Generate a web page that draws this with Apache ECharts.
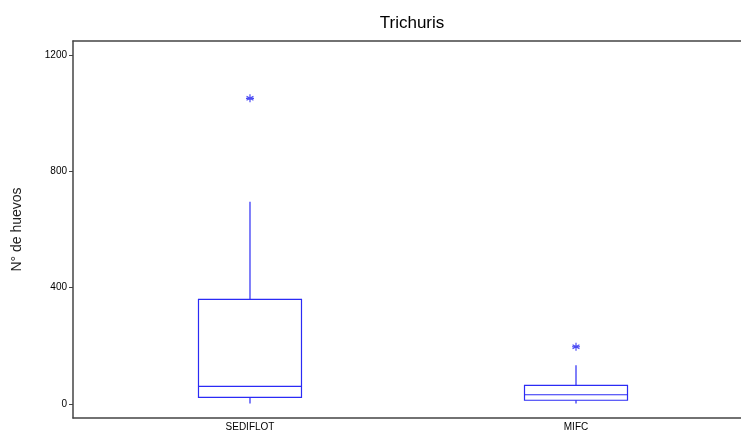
<!DOCTYPE html>
<html>
<head>
<meta charset="utf-8">
<script src="https://cdn.jsdelivr.net/npm/echarts@6/dist/echarts.min.js"></script>
<style>
html,body{margin:0;padding:0;background:#fff;}
#chart{width:741px;height:435px;}
</style>
</head>
<body>
<div id="chart"></div>
<script>
// Data
const categories = ['SEDIFLOT', 'MIFC'];
const categoryPositions = [1, 2];
// [min, Q1, median, Q3, max]
const boxValues = [
  [2, 23, 61, 360, 695],
  [2, 13, 32, 64, 133]
];
const outlierCategory = [1, 2];
const outlierValues = [1051, 197];
const yTicks = [0, 400, 800, 1200];

const boxData = boxValues.map((b, i) => [categoryPositions[i]].concat(b));
const outlierData = outlierValues.map((v, i) => [outlierCategory[i], v]);

const chart = echarts.init(document.getElementById('chart'));
const lineColor = '#2b2bf5';
const axisColor = '#444';
const font = '"Liberation Sans", Arial, sans-serif';
const BOX_HALF = 51.5;

function renderBox(params, api) {
  const x = api.value(0);
  const pMin = api.coord([x, api.value(1)]);
  const pQ1 = api.coord([x, api.value(2)]);
  const pMed = api.coord([x, api.value(3)]);
  const pQ3 = api.coord([x, api.value(4)]);
  const pMax = api.coord([x, api.value(5)]);
  const cx = pQ1[0];
  const style = {stroke: lineColor, lineWidth: 1.2, fill: null};
  return {
    type: 'group',
    children: [
      {type: 'rect', shape: {x: cx - BOX_HALF, y: pQ3[1], width: BOX_HALF * 2, height: pQ1[1] - pQ3[1]}, style: style},
      {type: 'line', shape: {x1: cx - BOX_HALF, y1: pMed[1], x2: cx + BOX_HALF, y2: pMed[1]}, style: style},
      {type: 'line', shape: {x1: cx, y1: pQ3[1], x2: cx, y2: pMax[1]}, style: style},
      {type: 'line', shape: {x1: cx, y1: pQ1[1], x2: cx, y2: pMin[1]}, style: style}
    ]
  };
}

const xMin = 0.4571, xMax = 2.5061;

chart.setOption({
  animation: false,
  backgroundColor: '#ffffff',
  title: {
    text: 'Trichuris',
    left: 407, top: 10, textAlign: 'center',
    textStyle: {fontFamily: font, fontSize: 17, fontWeight: 'normal', color: '#000'}
  },
  grid: {left: 73, right: 0, top: 41, bottom: 17},
  xAxis: [
    {
      type: 'value', position: 'bottom',
      min: xMin, max: xMax,
      splitLine: {show: false},
      axisLine: {show: true, onZero: false, lineStyle: {color: axisColor, width: 1.5}},
      axisTick: {show: false},
      axisLabel: {
        customValues: categoryPositions,
        formatter: v => categories[categoryPositions.indexOf(Math.round(v))] || '',
        margin: 4,
        fontFamily: font, fontSize: 10, color: '#000'
      }
    },
    {
      type: 'value', position: 'top',
      min: xMin, max: xMax,
      splitLine: {show: false},
      axisLine: {show: true, onZero: false, lineStyle: {color: axisColor, width: 1.5}},
      axisTick: {show: false},
      axisLabel: {show: false}
    }
  ],
  yAxis: {
    type: 'value',
    min: -48, max: 1248,
    name: 'N° de huevos',
    nameLocation: 'middle',
    nameGap: 49,
    nameTextStyle: {fontFamily: font, fontSize: 14, color: '#222'},
    splitLine: {show: false},
    axisLine: {show: true, onZero: false, lineStyle: {color: axisColor, width: 1.5}},
    axisTick: {show: true, customValues: yTicks, length: 4, lineStyle: {color: axisColor}},
    axisLabel: {customValues: yTicks, margin: 6, formatter: v => String(v), fontFamily: font, fontSize: 10, color: '#000'}
  },
  series: [
    {
      type: 'custom',
      xAxisIndex: 0,
      data: boxData,
      encode: {x: 0, y: [1, 2, 3, 4, 5]},
      renderItem: renderBox
    },
    {
      type: 'scatter',
      xAxisIndex: 0,
      data: outlierData,
      symbol: 'path://M0,-5L0,5M-4.3,-2.5L4.3,2.5M-4.3,2.5L4.3,-2.5M-5,0L5,0',
      symbolSize: 8,
      itemStyle: {color: 'transparent', borderColor: '#1f1ff0', borderWidth: 1.2}
    }
  ]
});
</script>
</body>
</html>
